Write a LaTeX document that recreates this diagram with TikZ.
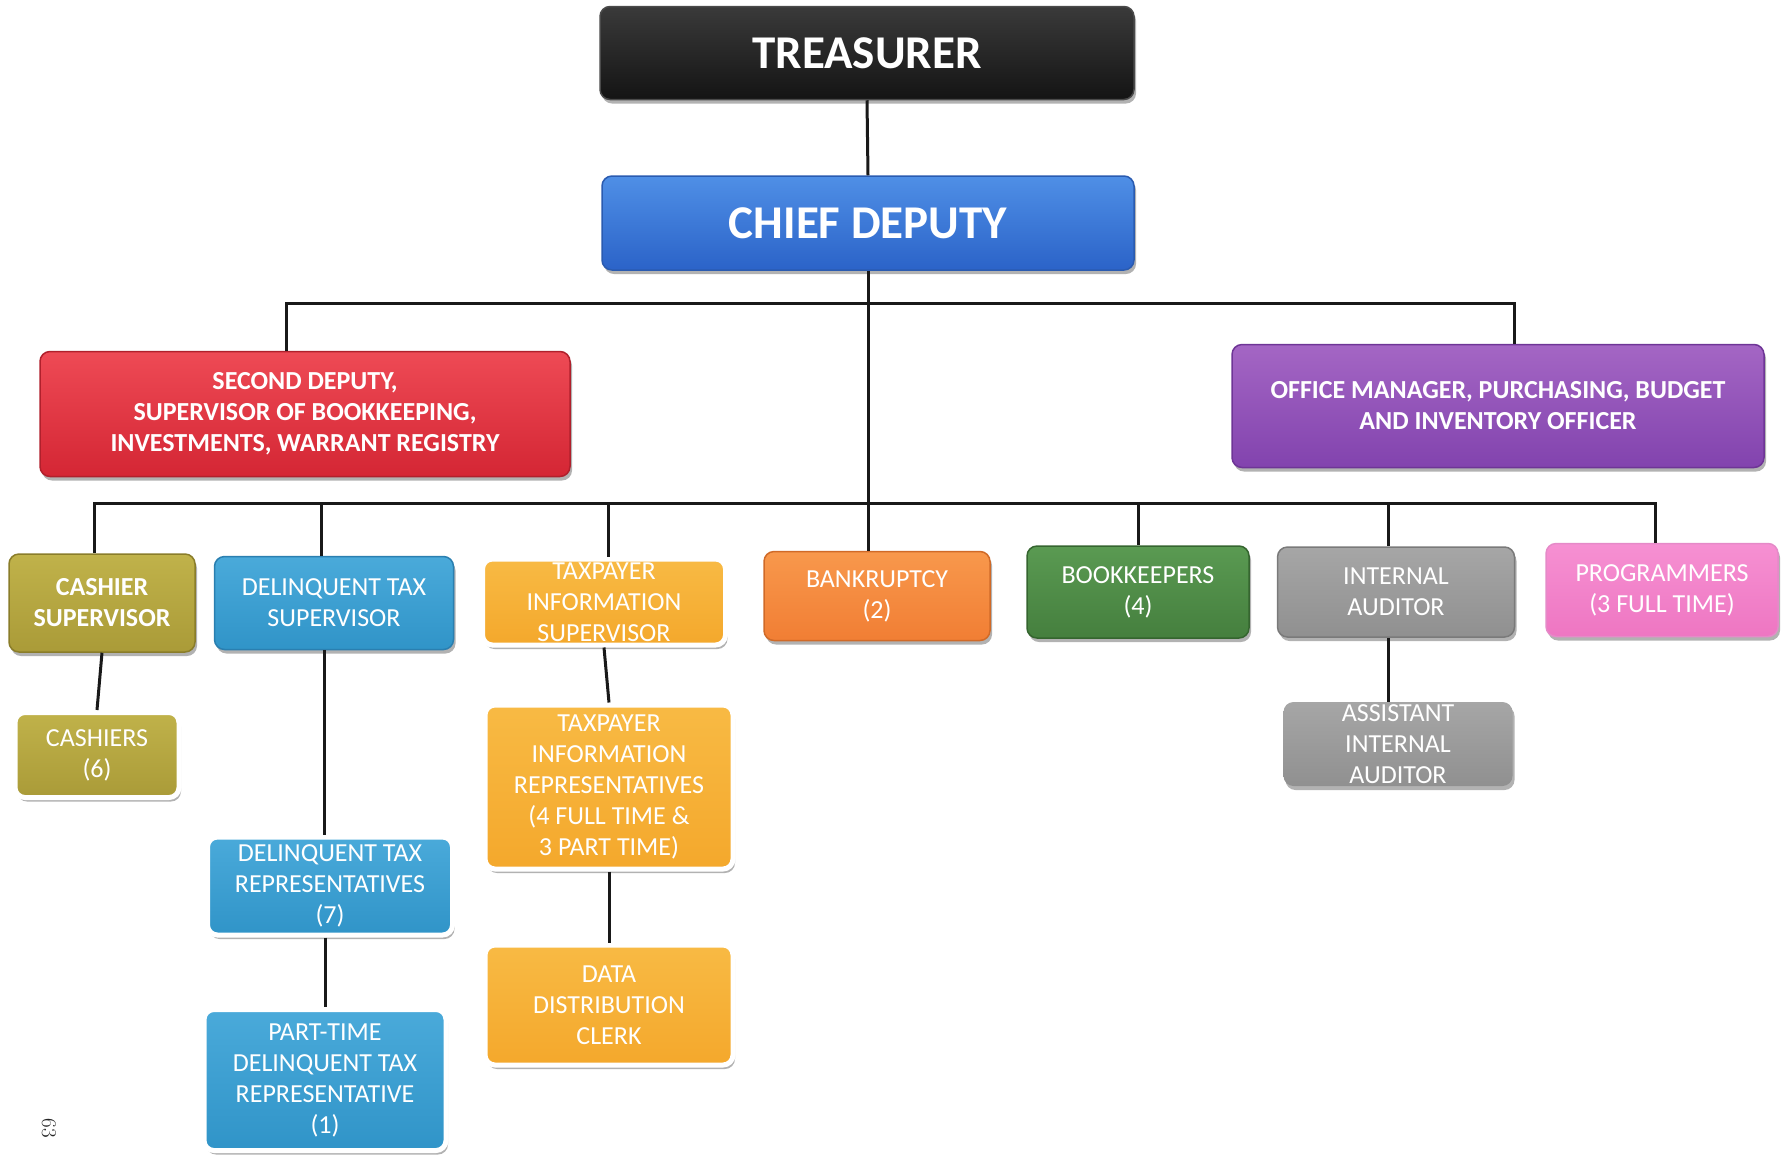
\documentclass[tikz,border=0pt]{standalone}
\usepackage{fontspec}
\newfontfamily\carlito{Carlito}
\usetikzlibrary{shadows}
\definecolor{treT}{HTML}{3A3A3A}\definecolor{treB}{HTML}{141414}\definecolor{treD}{HTML}{4A4A4A}
\definecolor{chT}{HTML}{4F8FE6}\definecolor{chB}{HTML}{2B63C8}\definecolor{chD}{HTML}{2A5BB0}
\definecolor{seT}{HTML}{EE4A55}\definecolor{seB}{HTML}{D42634}\definecolor{seD}{HTML}{B0202C}
\definecolor{ofT}{HTML}{A466C4}\definecolor{ofB}{HTML}{8243AE}\definecolor{ofD}{HTML}{6E3596}
\definecolor{olT}{HTML}{C0B24A}\definecolor{olB}{HTML}{AA9B38}\definecolor{olD}{HTML}{8A7D2A}
\definecolor{blT}{HTML}{4AAADA}\definecolor{blB}{HTML}{3094C8}\definecolor{blD}{HTML}{2A7FB0}
\definecolor{orT}{HTML}{F8BA44}\definecolor{orB}{HTML}{F4A82C}
\definecolor{baT}{HTML}{F8984C}\definecolor{baB}{HTML}{F17E34}\definecolor{baD}{HTML}{D06A28}
\definecolor{grT}{HTML}{5A9A52}\definecolor{grB}{HTML}{457F3E}\definecolor{grD}{HTML}{35652F}
\definecolor{gyT}{HTML}{A6A6A6}\definecolor{gyB}{HTML}{909090}\definecolor{gyD}{HTML}{7A7A7A}
\definecolor{piT}{HTML}{F690D2}\definecolor{piB}{HTML}{EE76C2}\definecolor{piD}{HTML}{E58AC8}
\tikzset{
  box/.style={rounded corners=10pt, inner sep=0pt, align=center, text=white,
    font=\carlito\fontsize{26}{31}\selectfont,
    drop shadow={shadow xshift=2pt, shadow yshift=-4pt, opacity=0.3, fill=black}},
  bbox/.style={box, font=\carlito\bfseries\fontsize{26}{31}\selectfont},
  wbox/.style={box, draw=white, line width=5pt},
  conn/.style={line width=3pt, draw=black!90},
}
\begin{document}
\begin{tikzpicture}[x=1pt,y=-1pt]
\useasboundingbox (0,0) rectangle (1781,1163);
% level 1-2
\node[bbox, top color=treT, bottom color=treB, draw=treD, line width=1.5pt,
  minimum width=534pt, minimum height=93pt, font=\carlito\bfseries\fontsize{47}{52}\selectfont]
  (tre) at (867,53) {TREASURER};
\node[bbox, top color=chT, bottom color=chB, draw=chD, line width=1.5pt,
  minimum width=532pt, minimum height=94pt, font=\carlito\bfseries\fontsize{47}{52}\selectfont]
  (chief) at (868,223) {CHIEF DEPUTY};
\node[bbox, top color=seT, bottom color=seB, draw=seD, line width=1.5pt,
  minimum width=530pt, minimum height=125pt] (sec) at (305,414)
  {SECOND DEPUTY,\\SUPERVISOR OF BOOKKEEPING,\\INVESTMENTS, WARRANT REGISTRY};
\node[bbox, top color=ofT, bottom color=ofB, draw=ofD, line width=1.5pt,
  minimum width=532pt, minimum height=123pt] (off) at (1498,406)
  {OFFICE MANAGER, PURCHASING, BUDGET\\AND INVENTORY OFFICER};
% level 3
\node[bbox, top color=olT, bottom color=olB, draw=olD, line width=1.5pt,
  minimum width=186pt, minimum height=98pt] (cashsup) at (102,603) {CASHIER\\SUPERVISOR};
\node[box, top color=blT, bottom color=blB, draw=blD, line width=1.5pt,
  minimum width=239pt, minimum height=93pt] (delsup) at (334,603) {DELINQUENT TAX\\SUPERVISOR};
\node[wbox, top color=orT, bottom color=orB,
  minimum width=243pt, minimum height=86pt] (taxsup) at (604,602) {TAXPAYER\\INFORMATION\\SUPERVISOR};
\node[box, top color=baT, bottom color=baB, draw=baD, line width=1.5pt,
  minimum width=226pt, minimum height=89pt] (bank) at (877,596) {BANKRUPTCY\\(2)};
\node[box, top color=grT, bottom color=grB, draw=grD, line width=1.5pt,
  minimum width=222pt, minimum height=92pt] (book) at (1138,592) {BOOKKEEPERS\\(4)};
\node[box, top color=gyT, bottom color=gyB, draw=gyD, line width=1.5pt,
  minimum width=237pt, minimum height=90pt] (intaud) at (1396,592) {INTERNAL\\AUDITOR};
\node[box, top color=piT, bottom color=piB, draw=piD, line width=1.5pt,
  minimum width=232pt, minimum height=93pt] (prog) at (1662,590) {PROGRAMMERS\\(3 FULL TIME)};
% level 4+
\node[wbox, top color=olT, bottom color=olB,
  minimum width=164pt, minimum height=85pt] (cash) at (97,755) {CASHIERS\\(6)};
\node[wbox, top color=blT, bottom color=blB,
  minimum width=245pt, minimum height=98pt] (delrep) at (330,886) {DELINQUENT TAX\\REPRESENTATIVES\\(7)};
\node[wbox, top color=blT, bottom color=blB,
  minimum width=242pt, minimum height=141pt] (part) at (325,1080)
  {PART-TIME\\DELINQUENT TAX\\REPRESENTATIVE\\(1)};
\node[wbox, top color=orT, bottom color=orB,
  minimum width=248pt, minimum height=164pt] (taxrep) at (609,787)
  {TAXPAYER\\INFORMATION\\REPRESENTATIVES\\(4 FULL TIME \&\\3 PART TIME)};
\node[wbox, top color=orT, bottom color=orB,
  minimum width=248pt, minimum height=120pt] (data) at (609,1005) {DATA\\DISTRIBUTION\\CLERK};
\node[box, top color=gyT, bottom color=gyB,
  minimum width=229pt, minimum height=84pt] (asst) at (1398,744) {ASSISTANT\\INTERNAL\\AUDITOR};
% page number
\node[rotate=-90, font=\fontsize{21}{24}\selectfont, text=black!85] (pg) at (49,1128) {63};
% connectors
\coordinate (bus1) at (867,303);
\coordinate (bus2) at (867,503);
\draw[conn] (tre.south) -- (chief.north);
\draw[conn] (chief.south) -- (chief.south |- bank.north);
\draw[conn] (bus1) -| ([xshift=-19pt]sec.north);
\draw[conn] (bus1) -| ([xshift=16pt]off.north);
\draw[conn] (bus2) -| ([xshift=-8pt]cashsup.north);
\draw[conn] (bus2) -| ([xshift=-13pt]delsup.north);
\draw[conn] (bus2) -| ([xshift=4pt]taxsup.north);
\draw[conn] (bus2) -| (book.north);
\draw[conn] (bus2) -| ([xshift=-8pt]intaud.north);
\draw[conn] (bus2) -| ([xshift=-7pt]prog.north);
\draw[conn] (cashsup.south) -- (cash.north);
\draw[conn] ([xshift=-10pt]delsup.south) -- ([xshift=-10pt]delsup.south |- delrep.north);
\draw[conn] ([xshift=-5pt]delrep.south) -- ([xshift=-5pt]delrep.south |- part.north);
\draw[conn] (taxsup.south) -- (taxrep.north);
\draw[conn] (taxrep.south) -- (data.north);
\draw[conn] ([xshift=-8pt]intaud.south) -- ([xshift=-8pt]intaud.south |- asst.north);
\end{tikzpicture}
\end{document}
